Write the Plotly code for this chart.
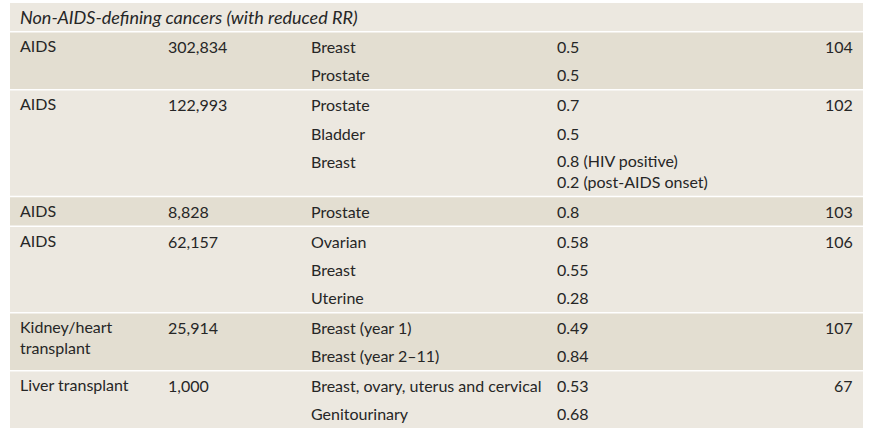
import plotly.graph_objects as go

# table content, one entry per study group
title = "Non-AIDS-defining cancers (with reduced RR)"
populations = ["AIDS", "AIDS", "AIDS", "AIDS", "Kidney/heart<br>transplant", "Liver transplant"]
cohort_sizes = ["302,834", "122,993", "8,828", "62,157", "25,914", "1,000"]
refs = ["104", "102", "103", "106", "107", "67"]
cancers = [
    ["Breast", "Prostate"],
    ["Prostate", "Bladder", "Breast"],
    ["Prostate"],
    ["Ovarian", "Breast", "Uterine"],
    ["Breast (year 1)", "Breast (year 2–11)"],
    ["Breast, ovary, uterus and cervical", "Genitourinary"],
]
rr_values = [
    ["0.5", "0.5"],
    ["0.7", "0.5", "0.8 (HIV positive)<br>0.2 (post-AIDS onset)"],
    ["0.8"],
    ["0.58", "0.55", "0.28"],
    ["0.49", "0.84"],
    ["0.53", "0.68"],
]

W, H = 869, 431
LIGHT = "#ece8e0"
DARK = "#e3ded1"
TXT = "#262626"
FONT = "Lato"
FS = 16

# column positions (left edges, last one is right edge)
x_left, x_right = 10, 863
col_x = [19, 167, 310, 556]
ref_x = 854

row_h = 28.3
line_h = 20.2
gap = 1.5

fig = go.Figure()
shapes = []
ann = []

def cell(x, y, text, anchor="left", italic=False, size=FS):
    ann.append(dict(x=x, y=y, xref="x", yref="y", text=f"<i>{text}</i>" if italic else text,
                    showarrow=False, xanchor=anchor, yanchor="middle", borderpad=0,
                    font=dict(family=FONT, size=size, color=TXT), align="left"))

# title row
top = 3
shapes.append(dict(type="rect", xref="x", yref="y", x0=x_left, x1=x_right, y0=top, y1=top + 28,
                   fillcolor=LIGHT, line_width=0, layer="below"))
cell(col_x[0], top + 14, title, italic=True, size=18)
top += 28 + gap

for g in range(len(populations)):
    heights = [row_h + line_h * (r.count("<br>")) for r in rr_values[g]]
    g_h = sum(heights)
    shapes.append(dict(type="rect", xref="x", yref="y", x0=x_left, x1=x_right, y0=top, y1=top + g_h,
                       fillcolor=DARK if g % 2 == 0 else LIGHT, line_width=0, layer="below"))
    first_mid = top + heights[0] / 2
    n_lines = populations[g].count("<br>") + 1
    cell(col_x[0], first_mid + (n_lines - 1) * line_h / 2 - 1, populations[g])
    cell(col_x[1], first_mid, cohort_sizes[g])
    cell(ref_x, first_mid, refs[g], anchor="right")
    y = top
    for c, r, h in zip(cancers[g], rr_values[g], heights):
        cell(col_x[2], y + row_h / 2, c)
        nl = r.count("<br>") + 1
        cell(col_x[3], y + row_h / 2 + (nl - 1) * line_h / 2, r)
        y += h
    top += g_h + gap

fig.update_layout(
    width=W, height=H,
    margin=dict(l=0, r=0, t=0, b=0),
    paper_bgcolor="white", plot_bgcolor="white",
    xaxis=dict(range=[0, W], visible=False, fixedrange=True),
    yaxis=dict(range=[H, 0], visible=False, fixedrange=True),
    shapes=shapes, annotations=ann, showlegend=False,
)

# drop the default page margin so the figure sits at the window's corner
fig.write_html("out.html", config={"displayModeBar": False},
               post_script="document.body.style.margin='0';")
